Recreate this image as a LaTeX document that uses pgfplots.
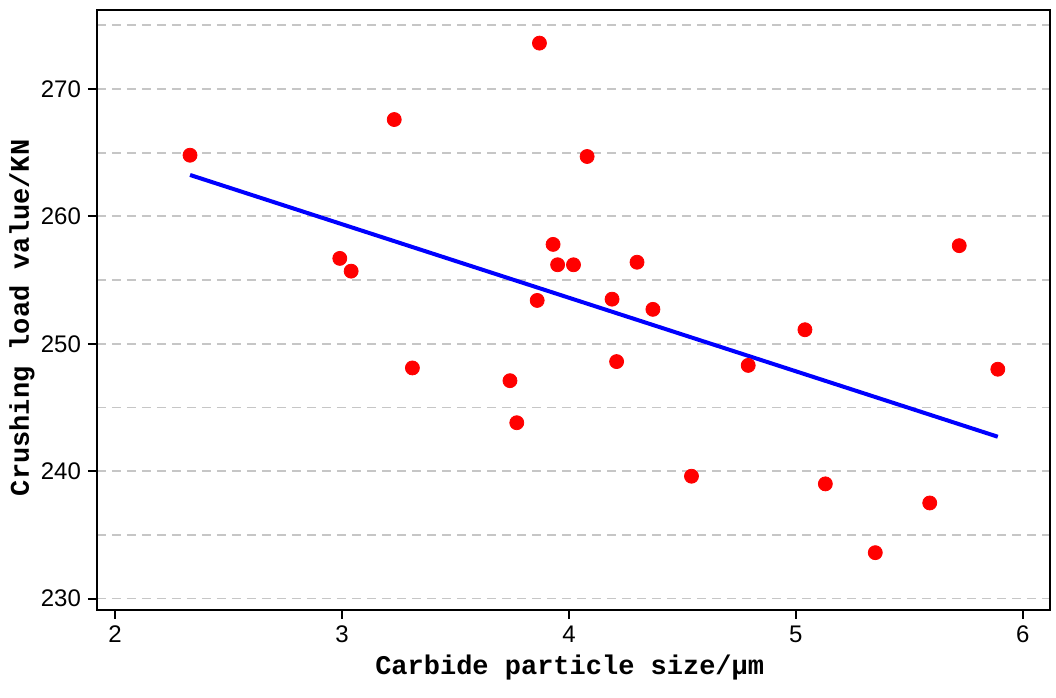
\documentclass[border=0pt]{standalone}
\usepackage{pgfplots}
\pgfplotsset{compat=1.18}
\usepackage{fontspec}
\setmainfont{Liberation Sans}
\newfontfamily\labfont{Liberation Mono}
\begin{document}
\begin{tikzpicture}
\begin{axis}[
  name=ax,
  scale only axis, width=476.5pt, height=300pt,
  xmin=1.92, xmax=6.12, ymin=229.1, ymax=276.2,
  xtick={2,3,4,5,6}, ytick={230,240,250,260,270},
  minor ytick={235,245,255,265,275},
  tick align=outside, tick pos=left,
  major tick length=4.5pt, minor tick length=0pt,
  ymajorgrids, yminorgrids,
  major grid style={color=gray!45, dash pattern=on 4.5pt off 3pt, line width=0.9pt},
  minor grid style={color=gray!45, dash pattern=on 4.5pt off 3pt, line width=0.9pt},
  axis line style={line width=1pt},
  tick style={black, line width=1pt},
  ticklabel style={font=\fontsize{12}{14}\selectfont},
  /pgf/number format/assume math mode=true,
  xlabel={\labfont\bfseries Carbide particle size/μm},
  ylabel={\labfont\bfseries Crushing load value/KN},
  label style={font=\fontsize{13.5}{16}\selectfont},
  xlabel style={at={(axis description cs:0.496,-0.0967)}, anchor=center},
  ylabel style={at={(axis description cs:-0.0787,0.487)}, anchor=center},
]
\addplot[only marks, mark=*, mark size=3.5pt, color=red] coordinates {
(2.33,264.8) (2.99,256.7) (3.04,255.7) (3.23,267.6) (3.31,248.1)
(3.74,247.1) (3.77,243.8) (3.87,273.6) (3.86,253.4) (3.93,257.8)
(3.95,256.2) (4.02,256.2) (4.08,264.7) (4.19,253.5) (4.21,248.6)
(4.30,256.4) (4.37,252.7) (4.54,239.6) (4.79,248.3) (5.04,251.1)
(5.13,239.0) (5.35,233.6) (5.59,237.5) (5.72,257.7) (5.89,248.0)
};
\addplot[blue, line width=2pt] coordinates {(2.33,263.25) (5.89,242.7)};
\end{axis}
\path ([shift={(-48.5pt,-44pt)}]ax.south west) rectangle ([shift={(3pt,5pt)}]ax.north east);
\end{tikzpicture}
\end{document}
